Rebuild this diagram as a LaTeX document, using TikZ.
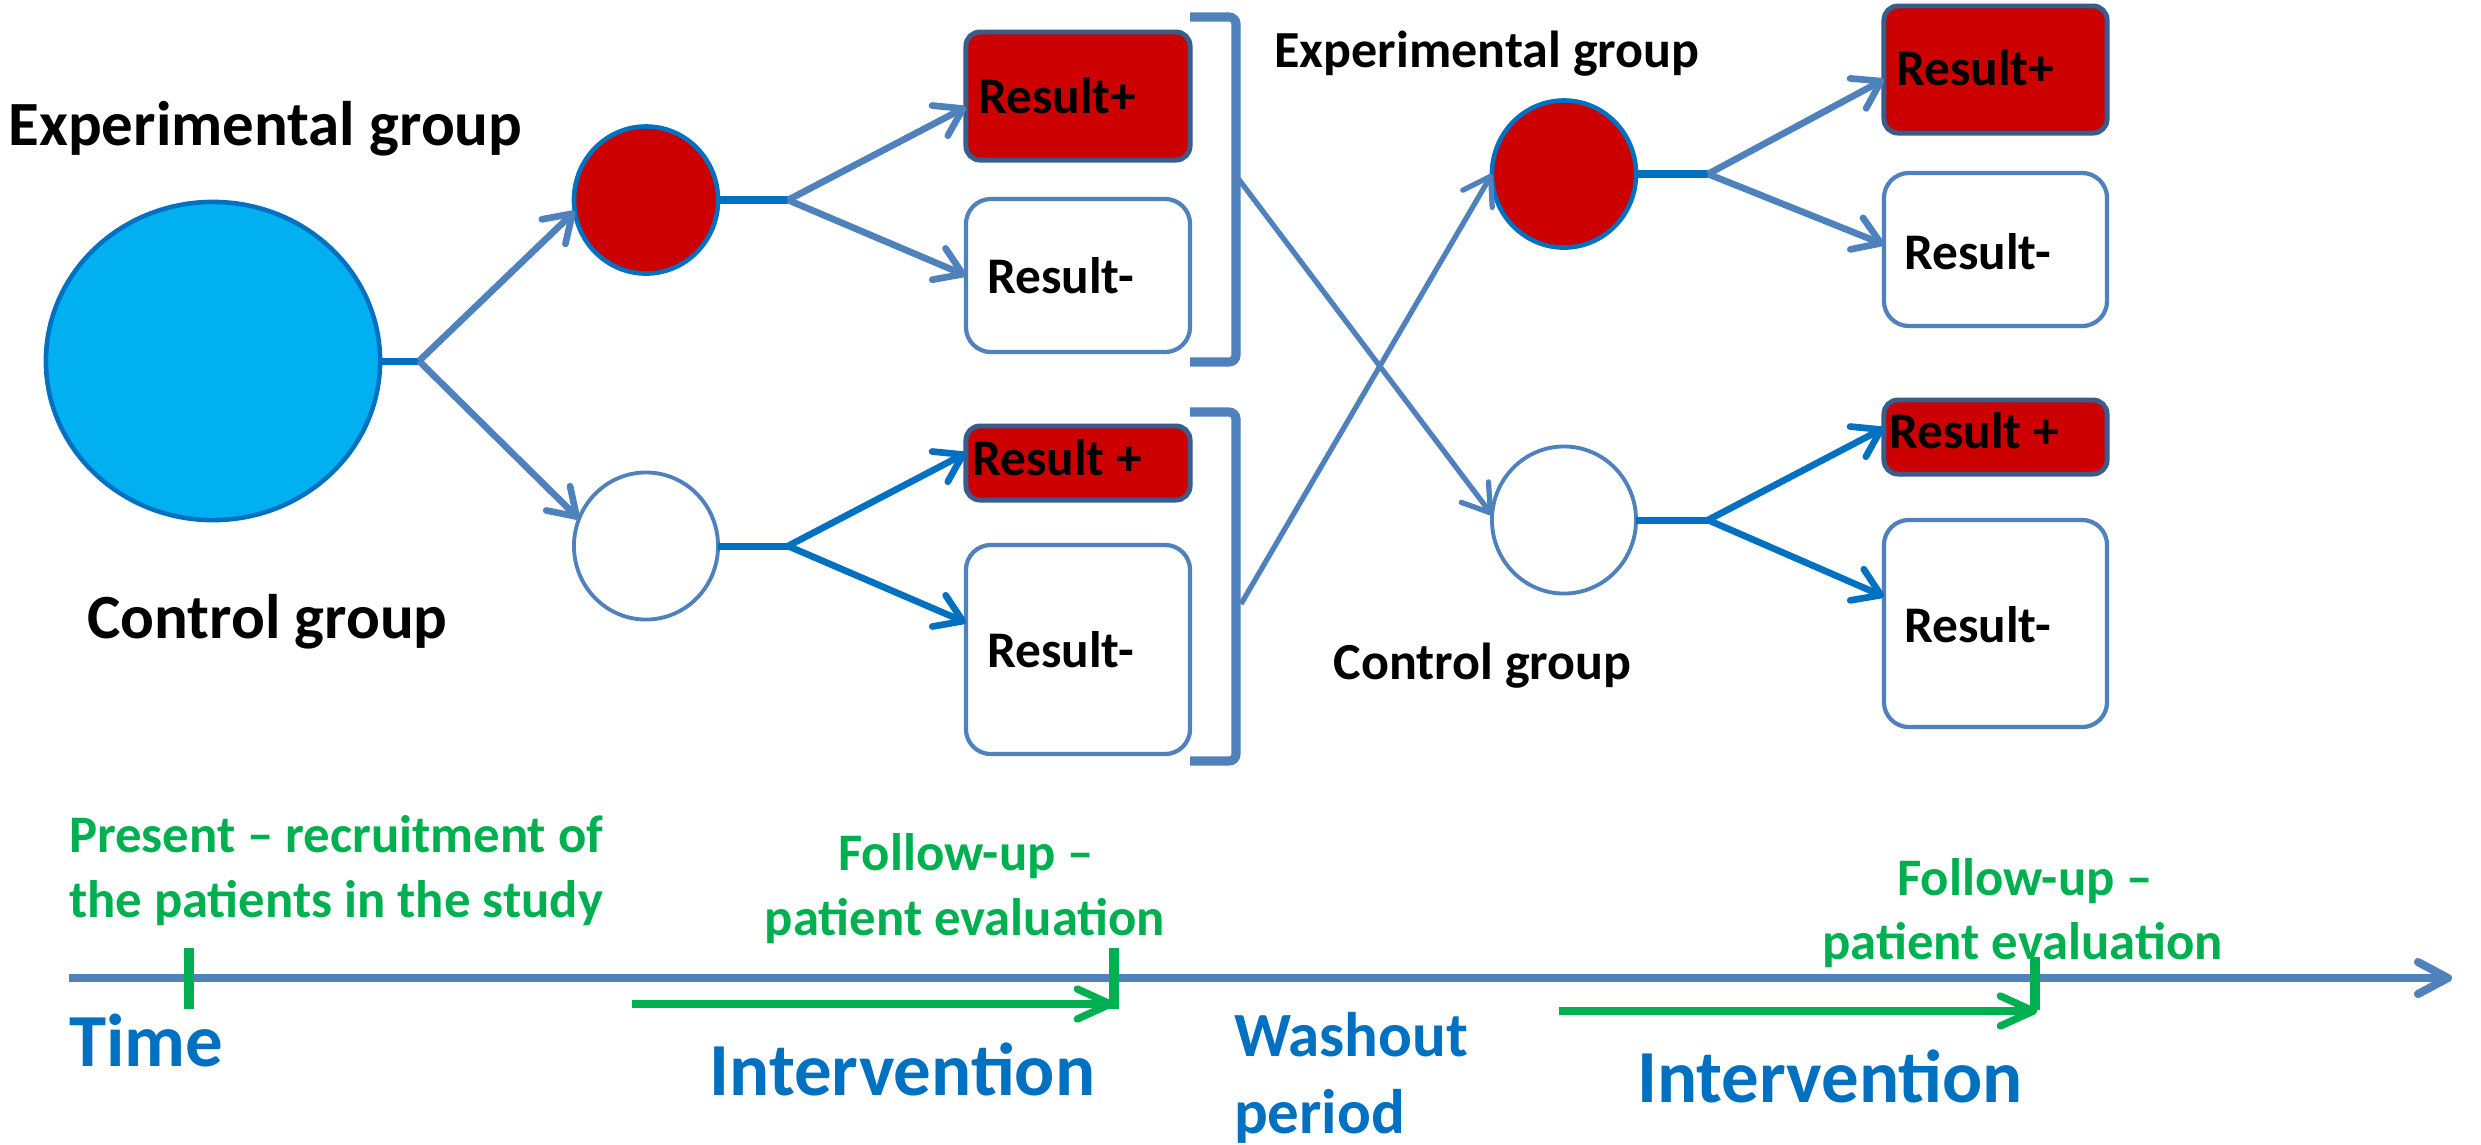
\documentclass[tikz,border=0pt]{standalone}
\usepackage{fontspec}
\setmainfont{Carlito}
\usetikzlibrary{arrows.meta,shapes.geometric}
\definecolor{cyanfill}{HTML}{00B0F0}
\definecolor{dblue}{HTML}{0070C0}
\definecolor{sblue}{HTML}{4F81BD}
\definecolor{dred}{HTML}{CC0000}
\definecolor{redborder}{HTML}{385D8A}
\definecolor{grn}{HTML}{00B050}
\begin{document}
\begin{tikzpicture}[x=0.01cm,y=-0.01cm,
  every node/.style={inner sep=0pt,outer sep=0pt},
  bigcirc/.style={ellipse,fill=cyanfill,draw=dblue,line width=1.3pt,minimum width=3.34cm,minimum height=3.18cm},
  redcirc/.style={ellipse,fill=dred,draw=dblue,line width=1.3pt,minimum width=1.44cm,minimum height=1.47cm},
  whitecirc/.style={ellipse,fill=white,draw=sblue,line width=1.1pt,minimum width=1.44cm,minimum height=1.47cm},
  redbox/.style={rectangle,rounded corners=0.14cm,fill=dred,draw=redborder,line width=1.4pt,minimum width=2.24cm},
  whitebox/.style={rectangle,rounded corners=0.25cm,fill=white,draw=sblue,line width=1.2pt,minimum width=2.24cm},
  biglbl/.style={font=\fontsize{17.9pt}{21.5pt}\selectfont\bfseries},
  midlbl/.style={font=\fontsize{14.8pt}{17.8pt}\selectfont\bfseries},
  restxt/.style={font=\fontsize{14.6pt}{17.5pt}\selectfont\bfseries,anchor=base west},
  grntxt/.style={font=\fontsize{15pt}{18pt}\selectfont\bfseries,text=grn},
  bluetxt/.style={font=\fontsize{21.3pt}{25.6pt}\selectfont\bfseries,text=dblue},
  washtxt/.style={font=\fontsize{17.9pt}{21.5pt}\selectfont\bfseries,text=dblue,anchor=base west},
  conn/.style={draw=dblue,line width=2pt},
  arr/.style={draw=sblue,line width=1.9pt,-{Straight Barb[round,length=0.26cm,width=0.34cm]}},
  arrdark/.style={draw=dblue,line width=1.9pt,-{Straight Barb[round,length=0.26cm,width=0.34cm]}},
  arrthin/.style={draw=sblue,line width=1.5pt,-{Straight Barb[round,length=0.26cm,width=0.34cm]}},
  brk/.style={draw=sblue,line width=2.6pt,rounded corners=0.07cm},
  axis/.style={draw=sblue,line width=2.3pt,-{Straight Barb[round,length=0.3cm,width=0.32cm]}},
  garr/.style={draw=grn,line width=2.1pt,-{Straight Barb[round,length=0.33cm,width=0.3cm]}},
  gtick/.style={draw=grn,line width=2.7pt}]
\fill[white] (0,0) rectangle (2481,1144);
\useasboundingbox (0,0) rectangle (2481,1144);

% circles
\node[bigcirc] (c0) at (213,361) {};
\node[redcirc] (c1) at (646,200) {};
\node[whitecirc] (c2) at (646,546) {};
\node[redcirc] (c3) at (1564,174) {};
\node[whitecirc] (c4) at (1564,520) {};

% result boxes, first column
\node[redbox,minimum height=1.28cm] (r1p) at (1078,96) {};
\node[whitebox,minimum height=1.53cm] (r1m) at (1078,275.5) {};
\node[redbox,minimum height=0.74cm] (r2p) at (1078,463) {};
\node[whitebox,minimum height=2.09cm] (r2m) at (1078,649.5) {};
% result boxes, second column
\node[redbox,minimum height=1.27cm,minimum width=2.23cm] (s1p) at (1995.5,69.5) {};
\node[whitebox,minimum height=1.53cm,minimum width=2.23cm] (s1m) at (1995.5,249.5) {};
\node[redbox,minimum height=0.74cm,minimum width=2.23cm] (s2p) at (1995.5,437) {};
\node[whitebox,minimum height=2.07cm,minimum width=2.23cm] (s2m) at (1995.5,623.5) {};

% box texts
\node[restxt] (t1p) at (978,113) {Result+};
\node[restxt] (t1m) at (987,293) {Result-};
\node[restxt] (t2p) at (972,475) {Result +};
\node[restxt] (t2m) at (987,667) {Result-};
\node[restxt] (u1p) at (1896,85) {Result+};
\node[restxt] (u1m) at (1904,269) {Result-};
\node[restxt] (u2p) at (1889,448) {Result +};
\node[restxt] (u2m) at (1904,642) {Result-};

% group labels
\node[biglbl,anchor=base] (lexp) at (265.5,145) {Experimental group};
\node[biglbl,anchor=base] (lctl) at (267.5,638) {Control group};
\node[midlbl,anchor=base] (rexp) at (1487,67) {Experimental group};
\node[midlbl,anchor=base] (rctl) at (1482.5,679) {Control group};

% junctions
\coordinate (j0) at (419,361);
\coordinate (j1) at (788,200);
\coordinate (j2) at (788,546);
\coordinate (j3) at (1708,174);
\coordinate (j4) at (1708,520);

\draw[conn] (c0.east) -- (j0);
\draw[arr] (j0) -- (c1.189);
\draw[arr] (j0) -- (c2.158);

\draw[conn] (c1.east) -- (j1);
\draw[arr] (j1) -- ([yshift=-0.11cm]r1p.west);
\draw[arr] (j1) -- (r1m.west);

\draw[conn] (c2.east) -- (j2);
\draw[arrdark] (j2) -- ([yshift=0.1cm]r2p.west);
\draw[arrdark] (j2) -- ([yshift=0.27cm]r2m.west);

\draw[conn] (c3.east) -- (j3);
\draw[arr] (j3) -- ([yshift=-0.1cm]s1p.west);
\draw[arr] (j3) -- ([yshift=0.05cm]s1m.west);

\draw[conn] (c4.east) -- (j4);
\draw[arrdark] (j4) -- ([yshift=0.09cm]s2p.west);
\draw[arrdark] (j4) -- ([yshift=0.27cm]s2m.west);

% brackets
\draw[brk] (1190,17) -- (1236,17) -- (1236,362) -- (1190,362);
\draw[brk] (1190,412) -- (1236,412) -- (1236,761) -- (1190,761);
\coordinate (b1) at (1237,177);
\coordinate (b2) at (1241,604);
\draw[arrthin] (b1) -- (c4.176);
\draw[arrthin] (b2) -- (c3.west);

% timeline
\coordinate (ax0) at (69,978);
\coordinate (ax1) at (2452,978);
\draw[axis] (ax0) -- (ax1);
\coordinate (k1a) at (189,948); \coordinate (k1b) at (189,1009);
\coordinate (k2a) at (1114,948); \coordinate (k2b) at (1114,1009);
\coordinate (k3a) at (2035,957); \coordinate (k3b) at (2035,1010);
\draw[gtick] (k1a) -- (k1b);
\draw[gtick] (k2a) -- (k2b);
\draw[gtick] (k3a) -- (k3b);
\coordinate (g1a) at (632,1004); \coordinate (g1b) at (1114,1004);
\coordinate (g2a) at (1559,1011); \coordinate (g2b) at (2037,1011);
\draw[garr] (g1a) -- (g1b);
\draw[garr] (g2a) -- (g2b);

% timeline texts
\node[grntxt,anchor=base west] (pres1) at (69,852) {Present – recruitment of};
\node[grntxt,anchor=base west] (pres2) at (69,917) {the patients in the study};
\node[grntxt,anchor=base] (fu1a) at (966,870) {Follow-up –};
\node[grntxt,anchor=base] (fu1b) at (965,935) {patient evaluation};
\node[grntxt,anchor=base] (fu2a) at (2025,895) {Follow-up –};
\node[grntxt,anchor=base] (fu2b) at (2022.5,959) {patient evaluation};
\node[bluetxt,anchor=base west] (time) at (69,1066) {Time};
\node[bluetxt,anchor=base] (int1) at (902.5,1095) {Intervention};
\node[bluetxt,anchor=base] (int2) at (1830,1102) {Intervention};
\node[washtxt] (wash1) at (1234,1056) {Washout};
\node[washtxt] (wash2) at (1234,1133) {period};
\end{tikzpicture}
\end{document}
